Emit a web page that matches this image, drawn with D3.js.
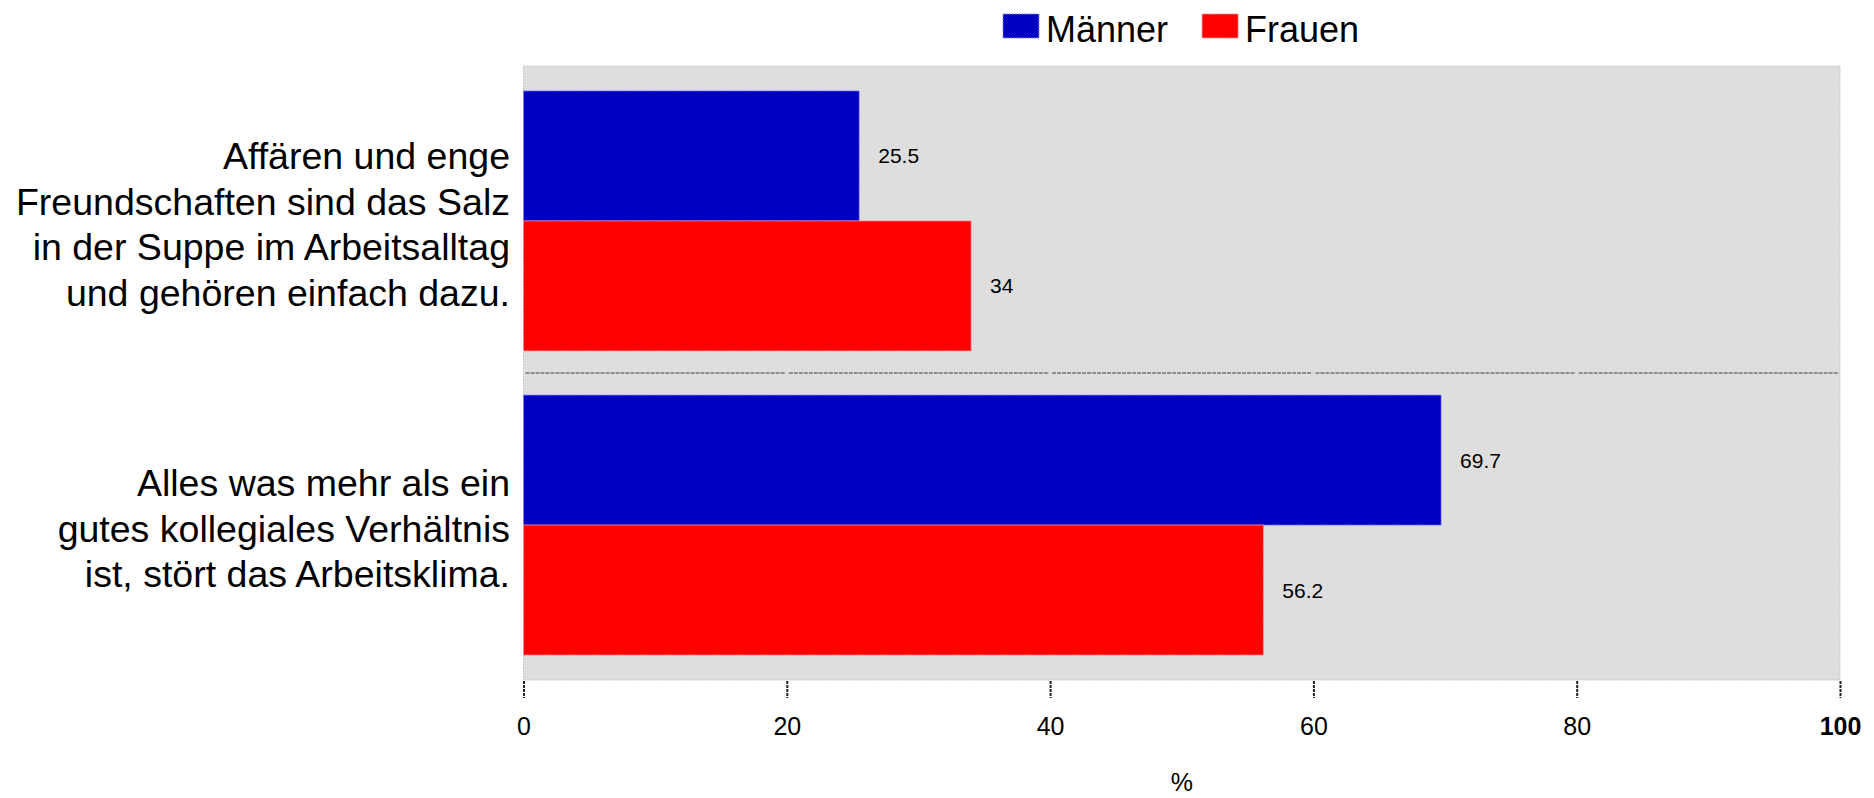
<!DOCTYPE html>
<html>
<head>
<meta charset="utf-8">
<script src="https://cdn.jsdelivr.net/npm/d3@7"></script>
<style>
  html, body { margin: 0; padding: 0; background: #ffffff; }
  svg { display: block; font-family: "Liberation Sans", Arial, Helvetica, sans-serif; }
</style>
</head>
<body>
<svg id="chart" width="1874" height="798"></svg>
<script>
// ---- data ----
const categories = [
  "Affären und enge Freundschaften sind das Salz in der Suppe im Arbeitsalltag und gehören einfach dazu.",
  "Alles was mehr als ein gutes kollegiales Verhältnis ist, stört das Arbeitsklima."
];
const categoryLines = [
  ["Affären und enge", "Freundschaften sind das Salz", "in der Suppe im Arbeitsalltag", "und gehören einfach dazu."],
  ["Alles was mehr als ein", "gutes kollegiales Verhältnis", "ist, stört das Arbeitsklima."]
];
const seriesNames = ["Männer", "Frauen"];
const maenner = [25.5, 69.7];
const frauen = [34, 56.2];
const tickValues = [0, 20, 40, 60, 80, 100];
const axisTitle = "%";

// ---- styling ----
const colors = {"Männer": "#0000c0", "Frauen": "#ff0000"};
const strokeColors = {"Männer": "#8080ff", "Frauen": "#ff9090"};
const margin = {left: 523.5, right: 1840, top: 66, bottom: 680};

const svg = d3.select("#chart");

const x = d3.scaleLinear().domain([0, 100]).range([margin.left, margin.right]);
const y = d3.scaleBand().domain(categories).range([margin.top, margin.bottom])
  .paddingInner(0.145).paddingOuter(0.082);
const ySub = d3.scaleBand().domain(seriesNames).range([0, y.bandwidth()]).padding(0);

const rows = categories.map((c, i) => ({
  cat: c, lines: categoryLines[i],
  values: [{s: "Männer", v: maenner[i]}, {s: "Frauen", v: frauen[i]}]
}));

// plot background
svg.append("rect")
  .attr("x", margin.left).attr("y", margin.top)
  .attr("width", margin.right - margin.left).attr("height", margin.bottom - margin.top)
  .attr("fill", "#dedede")
  .attr("stroke", "#c8c8c8").attr("stroke-width", 1).attr("stroke-dasharray", "2,1");

// separator line between groups (broken at tick positions)
const sepY = (y(categories[0]) + y.bandwidth() + y(categories[1])) / 2;
const segs = d3.pairs(tickValues);
svg.append("g").selectAll("line").data(segs).join("line")
  .attr("x1", d => x(d[0]) + 2).attr("x2", d => x(d[1]) - 1)
  .attr("y1", sepY).attr("y2", sepY)
  .attr("stroke", "#8e8e8e").attr("stroke-width", 2).attr("stroke-dasharray", "4,1");

// bars
const groups = svg.append("g").selectAll("g").data(rows).join("g")
  .attr("transform", d => `translate(0,${y(d.cat)})`);

groups.selectAll("rect").data(d => d.values).join("rect")
  .attr("x", x(0))
  .attr("y", d => ySub(d.s))
  .attr("width", d => x(d.v) - x(0))
  .attr("height", ySub.bandwidth())
  .attr("fill", d => colors[d.s])
  .attr("stroke", d => strokeColors[d.s]).attr("stroke-width", 1).attr("stroke-dasharray", "2,1");

// value labels
groups.selectAll("text.val").data(d => d.values).join("text")
  .attr("class", "val")
  .attr("x", d => x(d.v) + 19)
  .attr("y", d => ySub(d.s) + ySub.bandwidth() / 2)
  .attr("dy", "0.36em")
  .attr("font-size", 21)
  .attr("fill", "#000")
  .text(d => String(d.v));

// category labels
const lineH = 45.5;
const catG = svg.append("g").selectAll("text").data(rows).join("text")
  .attr("text-anchor", "end")
  .attr("font-size", 37.5)
  .attr("fill", "#000")
  .attr("transform", d => `translate(510,${y(d.cat) + y.bandwidth() / 2 + 3})`);
catG.selectAll("tspan").data(d => d.lines.map((l, i) => ({l, i, n: d.lines.length}))).join("tspan")
  .attr("x", 0)
  .attr("y", d => (d.i - (d.n - 1) / 2) * lineH)
  .attr("dy", "0.36em")
  .text(d => d.l);

// x axis
const axis = d3.axisBottom(x).tickValues(tickValues).tickSize(17).tickPadding(19)
  .tickFormat(d3.format("d"));
const ax = svg.append("g").attr("transform", `translate(0,${margin.bottom + 1})`).call(axis);
ax.select(".domain").remove();
ax.selectAll(".tick line").attr("stroke", "#222").attr("stroke-width", 2).attr("stroke-dasharray", "3,1");
ax.selectAll(".tick text")
  .attr("font-size", 25)
  .attr("font-family", '"Liberation Sans", Arial, sans-serif')
  .attr("fill", "#000")
  .attr("font-weight", d => d === 100 ? "bold" : "normal");

// axis title
svg.append("text")
  .attr("x", (margin.left + margin.right) / 2)
  .attr("y", 791)
  .attr("text-anchor", "middle")
  .attr("font-size", 25)
  .attr("fill", "#000")
  .text(axisTitle);

// legend
const legend = svg.append("g").attr("transform", "translate(1003,0)");
let lx = 0;
seriesNames.forEach(s => {
  legend.append("rect")
    .attr("x", lx).attr("y", 14).attr("width", 36).attr("height", 24)
    .attr("fill", colors[s])
    .attr("stroke", strokeColors[s]).attr("stroke-width", 1).attr("stroke-dasharray", "2,1");
  const t = legend.append("text")
    .attr("x", lx + 43).attr("y", 42)
    .attr("font-size", 36)
    .attr("fill", "#000")
    .text(s);
  lx = lx + 43 + t.node().getComputedTextLength() + 34;
});
</script>
</body>
</html>
